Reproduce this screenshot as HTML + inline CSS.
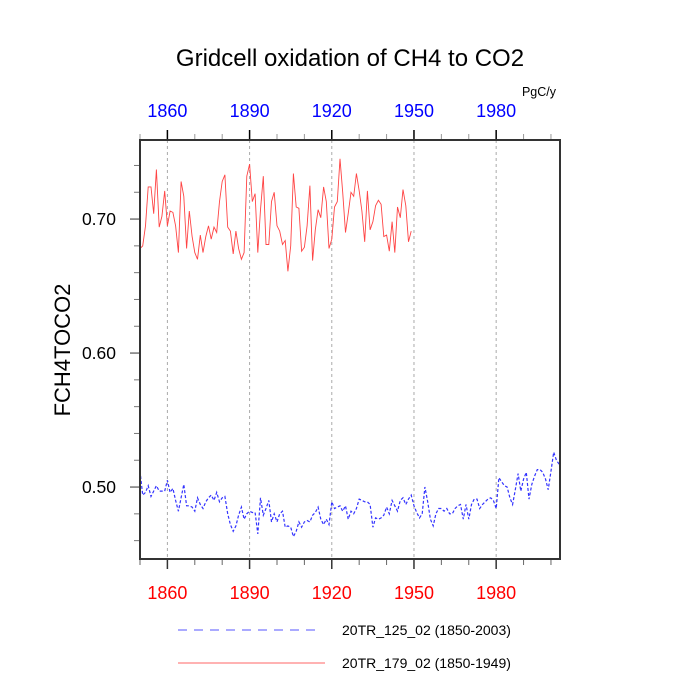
<!DOCTYPE html>
<html><head><meta charset="utf-8"><style>
body{margin:0;background:#fff}
svg{display:block;font-family:"Liberation Sans",sans-serif}
</style></head><body>
<svg id="chart" width="700" height="700" viewBox="0 0 700 700">
<text x="350" y="66" font-size="24" text-anchor="middle">Gridcell oxidation of CH4 to CO2</text>
<text x="539" y="96" font-size="12.5" text-anchor="middle">PgC/y</text>
<text transform="translate(70,350) rotate(-90)" font-size="22" text-anchor="middle">FCH4TOCO2</text>
<g id="grid"></g>
<g id="ticks"></g>
<g id="series"></g>
<rect x="140" y="140" width="420" height="419" fill="none" stroke="#333" stroke-width="2"/>
<g>
<line x1="178" y1="630" x2="322" y2="630" stroke="#55f" stroke-width="1" stroke-dasharray="9,7"/>
<text x="342" y="635" font-size="14">20TR_125_02 (1850-2003)</text>
<line x1="178" y1="663" x2="325" y2="663" stroke="#f66" stroke-width="1"/>
<text x="342" y="668" font-size="14">20TR_179_02 (1850-1949)</text>
</g>
</svg>
<script>
const xTicks=[1860,1890,1920,1950,1980];
const yTicks=[0.50,0.60,0.70];
const yTickLabels=["0.50","0.60","0.70"];
const redStart=1850;
const redValues=[0.678,0.680,0.695,0.724,0.724,0.704,0.737,0.694,0.702,0.721,0.695,0.706,0.705,0.695,0.675,0.728,0.717,0.678,0.706,0.687,0.675,0.670,0.688,0.675,0.687,0.695,0.685,0.694,0.690,0.713,0.728,0.733,0.694,0.691,0.674,0.691,0.678,0.670,0.675,0.732,0.741,0.713,0.719,0.675,0.707,0.732,0.681,0.681,0.713,0.720,0.695,0.691,0.681,0.684,0.661,0.680,0.734,0.709,0.708,0.676,0.679,0.695,0.725,0.669,0.692,0.707,0.701,0.724,0.713,0.678,0.685,0.709,0.713,0.745,0.720,0.690,0.704,0.720,0.717,0.734,0.721,0.706,0.683,0.721,0.692,0.698,0.710,0.714,0.711,0.687,0.688,0.676,0.698,0.675,0.709,0.701,0.722,0.710,0.683,0.691];
const blueStart=1850;
const blueValues=[0.512,0.494,0.496,0.501,0.493,0.497,0.501,0.497,0.497,0.497,0.505,0.496,0.499,0.490,0.482,0.492,0.502,0.486,0.486,0.485,0.482,0.492,0.487,0.484,0.489,0.492,0.494,0.490,0.496,0.489,0.492,0.493,0.480,0.472,0.467,0.471,0.479,0.485,0.476,0.480,0.482,0.481,0.481,0.465,0.492,0.479,0.484,0.490,0.474,0.480,0.474,0.480,0.482,0.470,0.471,0.470,0.463,0.467,0.474,0.470,0.474,0.475,0.474,0.479,0.481,0.485,0.476,0.472,0.476,0.472,0.489,0.484,0.485,0.486,0.482,0.486,0.476,0.482,0.480,0.484,0.491,0.490,0.489,0.489,0.487,0.470,0.477,0.476,0.477,0.479,0.485,0.480,0.490,0.486,0.482,0.490,0.492,0.487,0.491,0.494,0.486,0.481,0.477,0.480,0.500,0.489,0.476,0.471,0.480,0.484,0.484,0.482,0.484,0.480,0.480,0.484,0.486,0.487,0.476,0.487,0.476,0.487,0.491,0.491,0.484,0.487,0.489,0.491,0.492,0.490,0.484,0.507,0.504,0.501,0.500,0.492,0.487,0.498,0.510,0.497,0.506,0.511,0.491,0.502,0.508,0.513,0.513,0.511,0.506,0.498,0.512,0.526,0.520,0.517];
const NS="http://www.w3.org/2000/svg";
const X0=140,X1=560,xMin=1850,xMax=2003.3;
const Y0=559,Y1=140,yMin=0.4463,yMax=0.7590;
function xs(v){return X0+(v-xMin)/(xMax-xMin)*(X1-X0);}
function ys(v){return Y0-(v-yMin)/(yMax-yMin)*(Y0-Y1);}
function mk(tag,attrs,parent){const e=document.createElementNS(NS,tag);for(const k in attrs)e.setAttribute(k,attrs[k]);parent.appendChild(e);return e;}
const grid=document.getElementById('grid'),ticks=document.getElementById('ticks'),series=document.getElementById('series');
xTicks.forEach(t=>{
 const g=mk('line',{x1:xs(t),x2:xs(t),y1:140,y2:559,stroke:'#aaa','stroke-width':1,'stroke-dasharray':'3,3'},grid);
 
 
 const tt=mk('text',{x:xs(t),y:117,'font-size':18,fill:'#00f','text-anchor':'middle'},ticks);
 tt.textContent=t;
 
 
 const tb=mk('text',{x:xs(t),y:599,'font-size':18,fill:'#f00','text-anchor':'middle'},ticks);
 tb.textContent=t;
 
 
});
for(let yr=1850;yr<=2000;yr+=10){
 const major=xTicks.includes(yr);const L=major?10:6;
 const a=mk('line',{x1:xs(yr),x2:xs(yr),y1:140,y2:140-L,stroke:major?'#000':'#999','stroke-width':major?1.5:1},ticks);
 
 
 const b=mk('line',{x1:xs(yr),x2:xs(yr),y1:559,y2:559+L,stroke:major?'#333':'#666','stroke-width':major?1.5:1},ticks);
 
 
}
for(let i=23;i<=37;i++){
 const v=i*0.02;if(v<yMin||v>yMax)continue;
 const major=Math.abs(v*10-Math.round(v*10))<1e-6;
 const l=mk('line',{x1:140,x2:140-(major?10:6),y1:ys(v),y2:ys(v),stroke:major?'#333':'#777','stroke-width':1},ticks);
 
 
}
yTicks.forEach((t,i)=>{
 const tx=mk('text',{x:116,y:ys(t)+6,'font-size':17.5,'text-anchor':'end'},ticks);
 tx.textContent=yTickLabels[i];
 
 
});
function path(vals,start){return vals.map((v,i)=>(i?'L':'M')+xs(start+i).toFixed(1)+','+ys(v).toFixed(1)).join('');}
const r=mk('path',{d:path(redValues,redStart),fill:'none',stroke:'#f44','stroke-width':0.9},series);


const bl=mk('path',{d:path(blueValues,blueStart),fill:'none',stroke:'#33f','stroke-width':1.2,'stroke-dasharray':'3,2'},series);


</script>
</body></html>
